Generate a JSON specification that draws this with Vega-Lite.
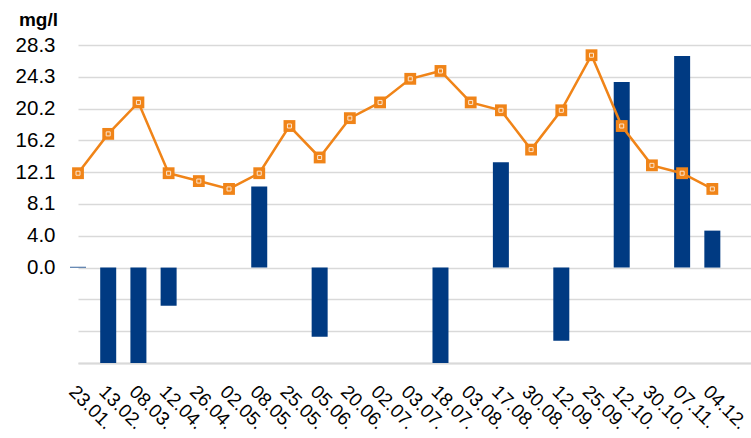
{
  "$schema": "https://vega.github.io/schema/vega-lite/v6.json",
  "width": 673,
  "height": 318,
  "autosize": "none",
  "padding": {"left": 78, "top": 45, "right": 0, "bottom": 75},
  "background": "white",
  "config": {
    "view": {"stroke": null},
    "font": "Liberation Sans",
    "axis": {"labelFont": "Liberation Sans", "titleFont": "Liberation Sans", "labelColor": "#000000", "titleColor": "#000000"}
  },
  "resolve": {"scale": {"y": "shared"}, "axis": {"y": "independent"}},
  "data": {
    "values": [
      {"date": "23.01.", "bar": 0.1, "line": 12},
      {"date": "13.02.", "bar": -12.13, "line": 17},
      {"date": "08.03.", "bar": -12.13, "line": 21},
      {"date": "12.04.", "bar": -4.85, "line": 12},
      {"date": "26.04.", "bar": null, "line": 11},
      {"date": "02.05.", "bar": null, "line": 10},
      {"date": "08.05.", "bar": 10.3, "line": 12},
      {"date": "25.05.", "bar": null, "line": 18},
      {"date": "05.06.", "bar": -8.8, "line": 14},
      {"date": "20.06.", "bar": null, "line": 19},
      {"date": "02.07.", "bar": null, "line": 21},
      {"date": "03.07.", "bar": null, "line": 24},
      {"date": "18.07.", "bar": -12.13, "line": 25},
      {"date": "03.08.", "bar": null, "line": 21},
      {"date": "17.08.", "bar": 13.4, "line": 20},
      {"date": "30.08.", "bar": null, "line": 15},
      {"date": "12.09.", "bar": -9.3, "line": 20},
      {"date": "25.09.", "bar": null, "line": 27},
      {"date": "12.10.", "bar": 23.6, "line": 18},
      {"date": "30.10.", "bar": null, "line": 13},
      {"date": "07.11.", "bar": 26.9, "line": 12},
      {"date": "04.12.", "bar": 4.7, "line": 10}
    ]
  },
  "encoding": {
    "x": {
      "field": "date",
      "type": "ordinal",
      "sort": null,
      "scale": {
        "type": "point", "padding": 0.64, "align": 0,
        "domain": ["23.01.", "13.02.", "08.03.", "12.04.", "26.04.", "02.05.", "08.05.", "25.05.", "05.06.", "20.06.", "02.07.", "03.07.", "18.07.", "03.08.", "17.08.", "30.08.", "12.09.", "25.09.", "12.10.", "30.10.", "07.11.", "04.12."]
      },
      "axis": {
        "title": null,
        "labelAngle": 45,
        "labelAlign": "left",
        "labelBaseline": "top",
        "labelPadding": 19,
        "labelDx": -2,
        "labelFontSize": 19,
        "labelOverlap": false,
        "labelBound": false,
        "ticks": false,
        "grid": false,
        "domain": true,
        "domainColor": "#d9d9d9",
        "domainWidth": 2
      }
    }
  },
  "layer": [
    {
      "mark": {"type": "bar", "size": 16, "color": "#003A82"},
      "encoding": {
        "y": {
          "field": "bar",
          "type": "quantitative",
          "scale": {"domain": [-12.13, 28.3], "nice": false, "zero": false},
          "axis": {
            "values": [-12.13, -8.086, -4.043, 0, 4.043, 8.086, 12.129, 16.171, 20.214, 24.257, 28.3],
            "labelExpr": "datum.value < -0.01 ? '' : format(datum.value, '.1f')",
            "labelFontSize": 20.5,
            "labelPadding": 23,
            "labelOverlap": false,
            "labelBound": false,
            "ticks": false,
            "domain": false,
            "grid": true,
            "gridColor": "#d9d9d9",
            "gridWidth": 1.5,
            "title": "mg/l",
            "titleAngle": 0,
            "titleFontSize": 19,
            "titleFontWeight": "bold",
            "titleAlign": "center",
            "titleBaseline": "alphabetic",
            "titleX": -40,
            "titleY": -20
          }
        }
      }
    },
    {
      "mark": {"type": "line", "color": "#F08418", "strokeWidth": 2.5},
      "encoding": {"y": {"field": "line", "type": "quantitative", "axis": null}}
    },
    {
      "mark": {"type": "point", "shape": "square", "filled": true, "color": "#F08418", "size": 140, "opacity": 1},
      "encoding": {"y": {"field": "line", "type": "quantitative", "axis": null}}
    },
    {
      "mark": {"type": "point", "shape": "square", "filled": false, "stroke": "#ffffff", "strokeWidth": 1, "size": 16, "opacity": 0.8},
      "encoding": {"y": {"field": "line", "type": "quantitative", "axis": null}}
    }
  ]
}
